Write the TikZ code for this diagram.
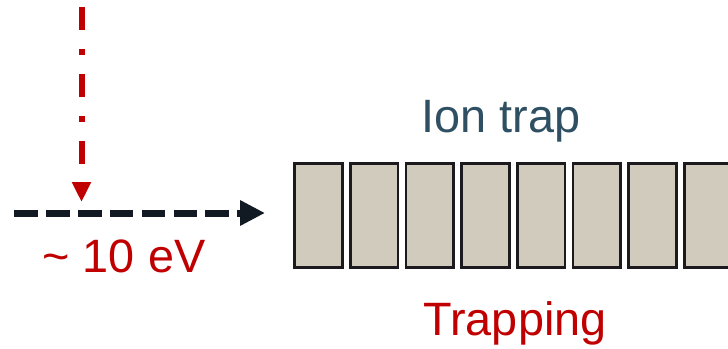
\documentclass[tikz,border=0pt]{standalone}
\usepackage{fontspec}
\setmainfont{Liberation Sans}
\usetikzlibrary{arrows.meta}
\definecolor{accred}{HTML}{C00000}
\definecolor{beamblack}{HTML}{111A22}
\definecolor{traptext}{HTML}{2F4F62}
\definecolor{electfill}{HTML}{D1CBBE}
\definecolor{electdraw}{HTML}{1C1A1F}
\tikzset{
  electrode/.style={draw=electdraw, fill=electfill, line width=2.6pt, minimum width=47.7pt, minimum height=104.3pt, inner sep=0pt},
  bigtext/.style={font=\fontsize{46.8}{56}\selectfont, anchor=base, inner sep=0pt},
  beam/.style={draw=beamblack, line width=7pt, dash pattern=on 23.7pt off 8.2pt, -{Triangle[length=25pt,width=24pt]}},
  laser/.style={draw=accred, line width=6pt, dash pattern=on 23pt off 19pt on 5.5pt off 19.5pt, -{Triangle[length=20pt,width=18pt]}}
}
\begin{document}
\begin{tikzpicture}[x=1pt,y=-1pt]
\useasboundingbox (0,0) rectangle (728,348);
\clip (0,0) rectangle (728,348);
\foreach \i in {1,...,8} {
  \node[electrode] (r\i) at ({318.4+55.7*(\i-1)},215.4) {};
}
\node[bigtext, text=traptext] (iontrap) at (501,132) {Ion trap};
\node[bigtext, text=accred] (energy) at (124,272) {\char"007E\ 10 eV};
\node[bigtext, text=accred] (trapping) at (515,335) {Trapping};
\coordinate (beamstart) at (14,213);
\coordinate (beamend) at (265,213);
\coordinate (laserstart) at (81.5,7);
\coordinate (laserend) at (81.5,202);
\draw[beam] (beamstart) -- (beamend);
\draw[laser] (laserstart) -- (laserend);
\end{tikzpicture}
\end{document}
